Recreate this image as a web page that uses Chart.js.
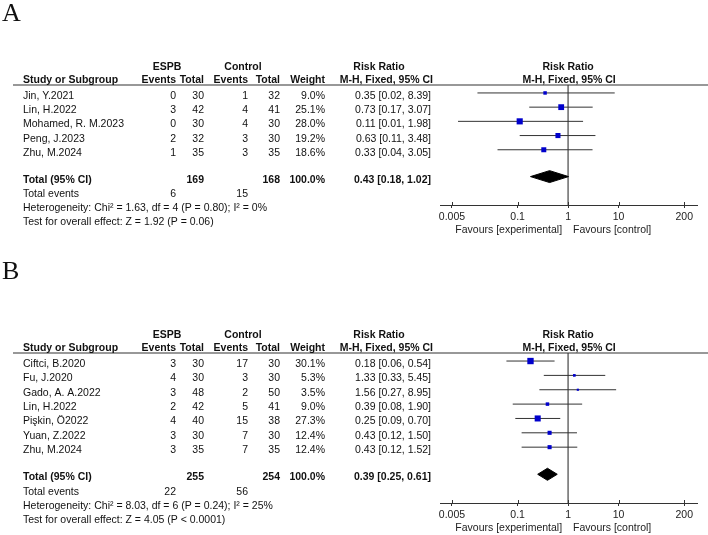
<!DOCTYPE html>
<html>
<head>
<meta charset="utf-8">
<title>Forest plots - ESPB vs Control</title>
<script src="https://cdn.jsdelivr.net/npm/chart.js@4.4.1/dist/chart.umd.min.js"></script>
<style>
  html, body { margin: 0; padding: 0; background: #fff; }
  body { width: 708px; height: 535px; position: relative; overflow: hidden; }
  canvas { position: absolute; left: 0; }
  #chartA { top: 0; }
  #chartB { top: 250px; }
</style>
</head>
<body>
<canvas id="chartA" width="708" height="250"></canvas>
<canvas id="chartB" width="708" height="285"></canvas>
<script>
// Panel A data
const studiesA = ['Jin, Y.2021', 'Lin, H.2022', 'Mohamed, R. M.2023', 'Peng, J.2023', 'Zhu, M.2024'];
const espbEventsA = [0, 3, 0, 2, 1];
const espbTotalA = [30, 42, 30, 32, 35];
const ctrlEventsA = [1, 4, 4, 3, 3];
const ctrlTotalA = [32, 41, 30, 30, 35];
const weightsA = [9.0, 25.1, 28.0, 19.2, 18.6];
const ratiosA = [0.35, 0.73, 0.11, 0.63, 0.33];
const lowerA = [0.016, 0.17, 0.0066, 0.11, 0.04];
const upperA = [8.39, 3.07, 1.98, 3.48, 3.05];
const pooledA = [0.43, 0.18, 1.02];      // estimate, lower, upper
const totalsA = [169, 168];
const totalEventsA = [6, 15];
const heterogeneityA = 'Heterogeneity: Chi² = 1.63, df = 4 (P = 0.80); I² = 0%';
const overallA = 'Test for overall effect: Z = 1.92 (P = 0.06)';

// Panel B data
const studiesB = ['Ciftci, B.2020', 'Fu, J.2020', 'Gado, A. A.2022', 'Lin, H.2022', 'Pişkin, Ö2022', 'Yuan, Z.2022', 'Zhu, M.2024'];
const espbEventsB = [3, 4, 3, 2, 4, 3, 3];
const espbTotalB = [30, 30, 48, 42, 40, 30, 35];
const ctrlEventsB = [17, 3, 2, 5, 15, 7, 7];
const ctrlTotalB = [30, 30, 50, 41, 38, 30, 35];
const weightsB = [30.1, 5.3, 3.5, 9.0, 27.3, 12.4, 12.4];
const ratiosB = [0.18, 1.33, 1.56, 0.39, 0.25, 0.43, 0.43];
const lowerB = [0.06, 0.33, 0.27, 0.08, 0.09, 0.12, 0.12];
const upperB = [0.54, 5.45, 8.95, 1.90, 0.70, 1.50, 1.52];
const pooledB = [0.39, 0.25, 0.61];
const totalsB = [255, 254];
const totalEventsB = [22, 56];
const heterogeneityB = 'Heterogeneity: Chi² = 8.03, df = 6 (P = 0.24); I² = 25%';
const overallB = 'Test for overall effect: Z = 4.05 (P < 0.0001)';

// Axis
const axisTicks = [0.005, 0.1, 1, 10, 200];
const X_MIN = 0.0029;
const X_MAX = 358;

// Layout constants
const FONT = '"Liberation Sans", Arial, Helvetica, sans-serif';
const TEXT_COLOR = '#111';
const COL_STUDY = 23, COL_EV1 = 176, COL_TOT1 = 204, COL_EV2 = 248, COL_TOT2 = 280, COL_WEIGHT = 325, COL_RR = 431;
const TOTAL_ROW_GAP = 1.89;
const Y_TOP_PAD = 0.56;
const Y_BOTTOM_PAD = 2.0;
const DIAMOND_HALF = 0.42;

Chart.defaults.font.family = FONT;
Chart.defaults.font.size = 10.5;
Chart.defaults.color = TEXT_COLOR;

function fmtRR(est, lo, hi) {
    return est.toFixed(2) + ' [' + lo.toFixed(2) + ', ' + hi.toFixed(2) + ']';
}

function put(ctx, s, x, y, align, bold) {
    ctx.font = (bold ? 'bold ' : '') + '10.5px ' + FONT;
    ctx.textAlign = align;
    ctx.fillText(s, x, y);
}

// Draws the table part, header and panel letter
function tablePlugin(p) {
    return {
        id: 'table' + p.letter,
        afterDraw(chart) {
            const ctx = chart.ctx;
            const area = chart.chartArea;
            const ys = chart.scales.y;
            const xs = chart.scales.x;
            const n = p.studies.length;
            const totalRow = n - 1 + TOTAL_ROW_GAP;
            const rowY = v => ys.getPixelForValue(v) + 6;
            const one = xs.getPixelForValue(1);

            ctx.save();
            ctx.fillStyle = TEXT_COLOR;
            ctx.textBaseline = 'alphabetic';

            // panel letter
            ctx.font = '26px "Liberation Serif", "Times New Roman", serif';
            ctx.textAlign = 'left';
            ctx.fillText(p.letter, 2, p.letterY);

            // header line
            ctx.strokeStyle = '#333';
            ctx.lineWidth = 1.2;
            ctx.beginPath();
            ctx.moveTo(13, area.top);
            ctx.lineTo(708, area.top);
            ctx.stroke();

            // headers
            const h1 = area.top - 15, h2 = area.top - 2;
            put(ctx, 'ESPB', 167, h1, 'center', true);
            put(ctx, 'Control', 243, h1, 'center', true);
            put(ctx, 'Risk Ratio', 379, h1, 'center', true);
            put(ctx, 'Risk Ratio', one, h1, 'center', true);
            put(ctx, 'Study or Subgroup', COL_STUDY, h2, 'left', true);
            put(ctx, 'Events', COL_EV1, h2, 'right', true);
            put(ctx, 'Total', COL_TOT1, h2, 'right', true);
            put(ctx, 'Events', COL_EV2, h2, 'right', true);
            put(ctx, 'Total', COL_TOT2, h2, 'right', true);
            put(ctx, 'Weight', COL_WEIGHT, h2, 'right', true);
            put(ctx, 'M-H, Fixed, 95% CI', COL_RR + 2, h2, 'right', true);
            put(ctx, 'M-H, Fixed, 95% CI', one + 1, h2, 'center', true);

            // study rows
            p.studies.forEach((name, i) => {
                const y = rowY(i);
                put(ctx, name, COL_STUDY, y, 'left', false);
                put(ctx, String(p.espbEvents[i]), COL_EV1, y, 'right', false);
                put(ctx, String(p.espbTotal[i]), COL_TOT1, y, 'right', false);
                put(ctx, String(p.ctrlEvents[i]), COL_EV2, y, 'right', false);
                put(ctx, String(p.ctrlTotal[i]), COL_TOT2, y, 'right', false);
                put(ctx, p.weights[i].toFixed(1) + '%', COL_WEIGHT, y, 'right', false);
                put(ctx, fmtRR(p.ratios[i], p.lower[i], p.upper[i]), COL_RR, y, 'right', false);
            });

            // totals
            let y = rowY(totalRow);
            put(ctx, 'Total (95% CI)', COL_STUDY, y, 'left', true);
            put(ctx, String(p.totals[0]), COL_TOT1, y, 'right', true);
            put(ctx, String(p.totals[1]), COL_TOT2, y, 'right', true);
            put(ctx, '100.0%', COL_WEIGHT, y, 'right', true);
            put(ctx, fmtRR(p.pooled[0], p.pooled[1], p.pooled[2]), COL_RR, y, 'right', true);

            y = rowY(totalRow + 1);
            put(ctx, 'Total events', COL_STUDY, y, 'left', false);
            put(ctx, String(p.totalEvents[0]), COL_EV1, y, 'right', false);
            put(ctx, String(p.totalEvents[1]), COL_EV2, y, 'right', false);
            put(ctx, p.heterogeneity, COL_STUDY, rowY(totalRow + 2), 'left', false);
            put(ctx, p.overall, COL_STUDY, rowY(totalRow + 3), 'left', false);

            // tick marks crossing the axis line
            ctx.strokeStyle = '#333';
            ctx.lineWidth = 1;
            axisTicks.forEach(v => {
                const px = Math.round(xs.getPixelForValue(v)) + 0.5;
                ctx.beginPath();
                ctx.moveTo(px, area.bottom - 3);
                ctx.lineTo(px, area.bottom);
                ctx.stroke();
            });

            // favours labels
            ctx.fillStyle = '#222';
            put(ctx, 'Favours [experimental]', one - 6, area.bottom + 28, 'right', false);
            put(ctx, 'Favours [control]', one + 5, area.bottom + 28, 'left', false);
            ctx.restore();
        }
    };
}

function buildForest(canvasId, p) {
    const n = p.studies.length;
    const totalRow = n - 1 + TOTAL_ROW_GAP;
    const yMin = -Y_TOP_PAD;
    const yMax = totalRow + Y_BOTTOM_PAD;

    const ciData = [];
    p.lower.forEach((lo, i) => {
        ciData.push({ x: lo, y: i }, { x: p.upper[i], y: i }, { x: null, y: null });
    });
    const markerData = p.ratios.map((r, i) => ({ x: r, y: i }));
    const [est, lo, hi] = p.pooled;
    const diamond = [
        { x: lo, y: totalRow },
        { x: est, y: totalRow - DIAMOND_HALF },
        { x: hi, y: totalRow },
        { x: est, y: totalRow + DIAMOND_HALF },
        { x: lo, y: totalRow }
    ];

    return new Chart(document.getElementById(canvasId), {
        type: 'scatter',
        data: {
            datasets: [
                {
                    data: markerData,
                    pointStyle: 'rect',
                    pointRadius: p.weights.map(w => Math.sqrt(w) * 0.82),
                    backgroundColor: '#0000cc',
                    borderWidth: 0,
                    order: 0
                },
                {
                    data: diamond,
                    showLine: true,
                    pointRadius: 0,
                    borderColor: '#000',
                    borderWidth: 1,
                    backgroundColor: '#000',
                    fill: 'shape',
                    order: 0
                },
                {
                    data: ciData,
                    showLine: true,
                    spanGaps: false,
                    pointRadius: 0,
                    borderColor: '#333',
                    borderWidth: 1,
                    order: 1
                },
                {
                    data: [{ x: 1, y: yMin }, { x: 1, y: yMax }],
                    showLine: true,
                    pointRadius: 0,
                    borderColor: '#6b6b6b',
                    borderWidth: 1.5,
                    order: 2
                }
            ]
        },
        options: {
            responsive: false,
            animation: false,
            events: [],
            layout: { padding: { left: 440, right: 11, top: p.padTop, bottom: p.padBottom } },
            plugins: { legend: { display: false }, tooltip: { enabled: false } },
            scales: {
                x: {
                    type: 'logarithmic',
                    min: X_MIN,
                    max: X_MAX,
                    afterBuildTicks: s => { s.ticks = axisTicks.map(v => ({ value: v })); },
                    afterFit: s => { s.height = 32; },
                    ticks: {
                        callback: v => String(v),
                        color: '#222',
                        font: { size: 10.5 },
                        padding: 3,
                        maxRotation: 0,
                        autoSkip: false
                    },
                    grid: { drawOnChartArea: false, drawTicks: true, tickLength: 3, color: '#333' },
                    border: { display: true, color: '#333', width: 1 }
                },
                y: { type: 'linear', reverse: true, min: yMin, max: yMax, display: false }
            }
        },
        plugins: [tablePlugin(p)]
    });
}

buildForest('chartA', {
    letter: 'A', letterY: 21, padTop: 85, padBottom: 13,
    studies: studiesA, espbEvents: espbEventsA, espbTotal: espbTotalA,
    ctrlEvents: ctrlEventsA, ctrlTotal: ctrlTotalA, weights: weightsA,
    ratios: ratiosA, lower: lowerA, upper: upperA, pooled: pooledA,
    totals: totalsA, totalEvents: totalEventsA,
    heterogeneity: heterogeneityA, overall: overallA
});

buildForest('chartB', {
    letter: 'B', letterY: 29, padTop: 103, padBottom: 0,
    studies: studiesB, espbEvents: espbEventsB, espbTotal: espbTotalB,
    ctrlEvents: ctrlEventsB, ctrlTotal: ctrlTotalB, weights: weightsB,
    ratios: ratiosB, lower: lowerB, upper: upperB, pooled: pooledB,
    totals: totalsB, totalEvents: totalEventsB,
    heterogeneity: heterogeneityB, overall: overallB
});
</script>
</body>
</html>
